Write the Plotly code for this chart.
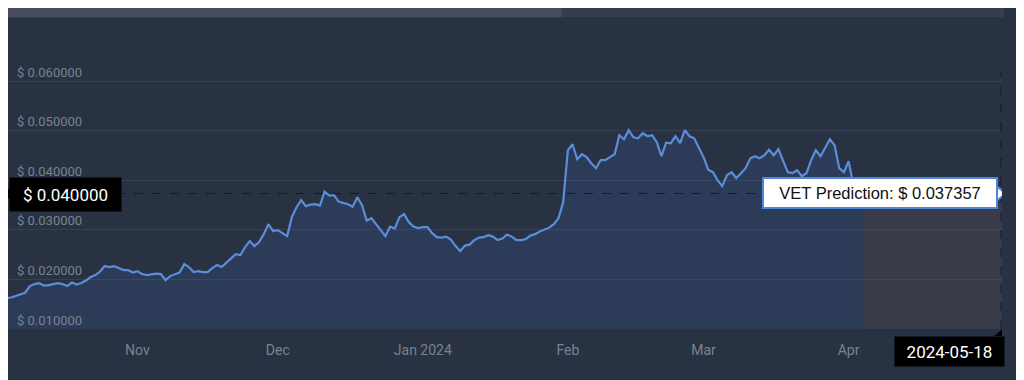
import pandas as pd
import plotly.graph_objects as go

# ---------------- data ----------------
start_date = "2023-10-03"
vet_price = [
    0.01665, 0.01625, 0.01635, 0.01665, 0.01706, 0.01732, 0.01867, 0.01907, 0.01927, 0.01877,
    0.01887, 0.01907, 0.01927, 0.01907, 0.01867, 0.01937, 0.01897, 0.01927, 0.01978, 0.02048,
    0.02089, 0.02159, 0.02270, 0.02250, 0.02270, 0.02230, 0.02189, 0.02189, 0.02139, 0.02169,
    0.02109, 0.02089, 0.02099, 0.02119, 0.02109, 0.01988, 0.02068, 0.02109, 0.02139, 0.02310,
    0.02250, 0.02149, 0.02169, 0.02149, 0.02149, 0.02230, 0.02290, 0.02250, 0.02341, 0.02431,
    0.02512, 0.02492, 0.02653, 0.02774, 0.02673, 0.02754, 0.02915, 0.03117, 0.02976, 0.02996,
    0.02935, 0.02875, 0.03258, 0.03459, 0.03601, 0.03480, 0.03510, 0.03520, 0.03490, 0.03772,
    0.03692, 0.03702, 0.03571, 0.03540, 0.03520, 0.03470, 0.03661, 0.03500, 0.03187, 0.03238,
    0.03117, 0.02996, 0.02875, 0.03067, 0.03026, 0.03258, 0.03318, 0.03157, 0.03067, 0.03036,
    0.03056, 0.03056, 0.02935, 0.02855, 0.02845, 0.02865, 0.02804, 0.02673, 0.02572, 0.02683,
    0.02703, 0.02794, 0.02845, 0.02855, 0.02895, 0.02865, 0.02794, 0.02824, 0.02905, 0.02865,
    0.02794, 0.02794, 0.02814, 0.02885, 0.02915, 0.02966, 0.03006, 0.03046, 0.03117, 0.03238,
    0.03560, 0.04609, 0.04730, 0.04427, 0.04528, 0.04468, 0.04347, 0.04246, 0.04407, 0.04407,
    0.04468, 0.04528, 0.04911, 0.04830, 0.05012, 0.04870, 0.04850, 0.04951, 0.04891, 0.04911,
    0.04770, 0.04488, 0.04760, 0.04750, 0.04891, 0.04750, 0.05012, 0.04891, 0.04850, 0.04649,
    0.04468, 0.04215, 0.04165, 0.04004, 0.03883, 0.04105, 0.04165, 0.04044, 0.04145, 0.04246,
    0.04447, 0.04488, 0.04447, 0.04508, 0.04619, 0.04508, 0.04629, 0.04407, 0.04165, 0.04145,
    0.04205, 0.04084, 0.04145, 0.04407, 0.04609, 0.04488, 0.04649, 0.04830, 0.04709, 0.04246,
    0.04165, 0.04387, 0.03923, 0.03803, 0.03736,
]
dates = pd.date_range(start_date, periods=len(vet_price), freq="D")

prediction_dates = ["2024-04-04", "2024-05-18"]
prediction_value = 0.037357
prediction_label_date = "2024-05-18"
crosshair_label = "$ 0.040000"

x_range = ["2023-10-04 08:00", "2024-05-03 19:00"]
y_range = [0.010, 0.0645]
y_ticks = [0.01, 0.02, 0.03, 0.04, 0.05, 0.06]
y_ticktext = ["$ 0.010000", "$ 0.020000", "$ 0.030000", "$ 0.040000", "$ 0.050000", "$ 0.060000"]
x_tickvals = ["2023-11-01", "2023-12-01", "2024-01-01", "2024-02-01", "2024-03-01", "2024-04-01"]
x_ticktext = ["Nov", "Dec", "Jan 2024", "Feb", "Mar", "Apr"]

# ---------------- style ----------------
BG = "#283243"
GRID = "#364152"
TICK = "#7a8290"
LINE = "#5b8ddb"
FONT = "Roboto"

fig = go.Figure()

fig.add_trace(go.Scatter(
    x=prediction_dates, y=[prediction_value] * len(prediction_dates),
    mode="lines", line=dict(color="rgba(255,255,255,0.25)", width=1),
    fill="tozeroy", fillcolor="rgba(95,85,85,0.30)", hoverinfo="skip", showlegend=False,
))
fig.add_trace(go.Scatter(
    x=dates, y=vet_price, mode="lines",
    line=dict(color=LINE, width=2.2),
    fill="tozeroy", fillcolor="rgba(70,110,190,0.16)",
    hoverinfo="skip", showlegend=False,
))

shapes = [
    # navigator bar
    dict(type="rect", xref="paper", yref="paper", x0=0, x1=1.002, y0=1.155, y1=1.195,
         fillcolor="#343e4e", line=dict(width=0), layer="above"),
    dict(type="rect", xref="paper", yref="paper", x0=0, x1=0.557, y0=1.155, y1=1.195,
         fillcolor="#464c5c", line=dict(width=0), layer="above"),
    # crosshair lines
    dict(type="line", xref="paper", yref="y", x0=0, x1=1, y0=prediction_value, y1=prediction_value,
         line=dict(color="#161b25", width=1, dash="dash"), layer="above"),
    dict(type="line", xref="paper", yref="paper", x0=0.999, x1=0.999, y0=0, y1=0.95,
         line=dict(color="#161b25", width=1, dash="dash"), layer="above"),
    # left label arrow
    dict(type="path", xref="paper", yref="y", xsizemode="pixel", ysizemode="pixel",
         xanchor=0, yanchor=prediction_value, path="M -4,0 L 2,-6 L 2,6 Z",
         fillcolor="black", line=dict(width=0), layer="above"),
    # tooltip arrow
    dict(type="path", xref="x", yref="y", xsizemode="pixel", ysizemode="pixel",
         xanchor=x_range[1], yanchor=prediction_value, path="M -5,-7 L 4,0 L -5,7 Z",
         fillcolor="white", line=dict(color="#4f86d9", width=2), layer="above"),
    # date label notch
    dict(type="path", xref="x", yref="paper", xsizemode="pixel", ysizemode="pixel",
         xanchor=x_range[1], yanchor=0, path="M -8,-7 L 2,-7 L 2,1 Z",
         fillcolor="black", line=dict(width=0), layer="above"),
]

annotations = [
    dict(xref="paper", yref="y", x=0, y=prediction_value, xanchor="left", yanchor="middle",
         xshift=1, yshift=-1, text=crosshair_label, showarrow=False, bgcolor="black",
         font=dict(family=FONT, size=17, color="white"), width=101, height=23, borderpad=5),
    dict(xref="x", yref="y", x=x_range[1], y=prediction_value, xanchor="right", yanchor="middle",
         xshift=-4, text=f"VET Prediction: $ {prediction_value:.6f}", showarrow=False,
         bgcolor="white", bordercolor="#4f86d9", borderwidth=2, borderpad=4,
         font=dict(family="Liberation Sans", size=16.5, color="#111111"), width=224, height=20),
    dict(xref="x", yref="paper", x=x_range[1], y=0, xanchor="right", yanchor="top",
         yshift=-7, xshift=3, text=prediction_label_date, showarrow=False, bgcolor="black",
         font=dict(family=FONT, size=17, color="white"), width=101, height=21, borderpad=4),
]

fig.update_layout(
    width=1016, height=372,
    margin=dict(l=0, r=22, t=51, b=51),
    paper_bgcolor=BG, plot_bgcolor=BG,
    showlegend=False,
    shapes=shapes, annotations=annotations,
    font=dict(family=FONT, size=12, color=TICK),
)
fig.update_xaxes(
    range=x_range, tickvals=x_tickvals, ticktext=x_ticktext,
    showgrid=False, zeroline=False, showline=False,
    ticks="outside", ticklen=8, tickcolor=BG,
    tickfont=dict(family=FONT, size=14, color=TICK),
)
fig.update_yaxes(
    range=y_range, tickvals=y_ticks, ticktext=y_ticktext,
    ticklabelposition="inside", ticklabelstandoff=6, ticklabelshift=-9,
    showgrid=True, gridcolor=GRID, gridwidth=1, zeroline=False, showline=False,
    tickfont=dict(family=FONT, size=13, color=TICK),
)

fig.write_html("out.html")
